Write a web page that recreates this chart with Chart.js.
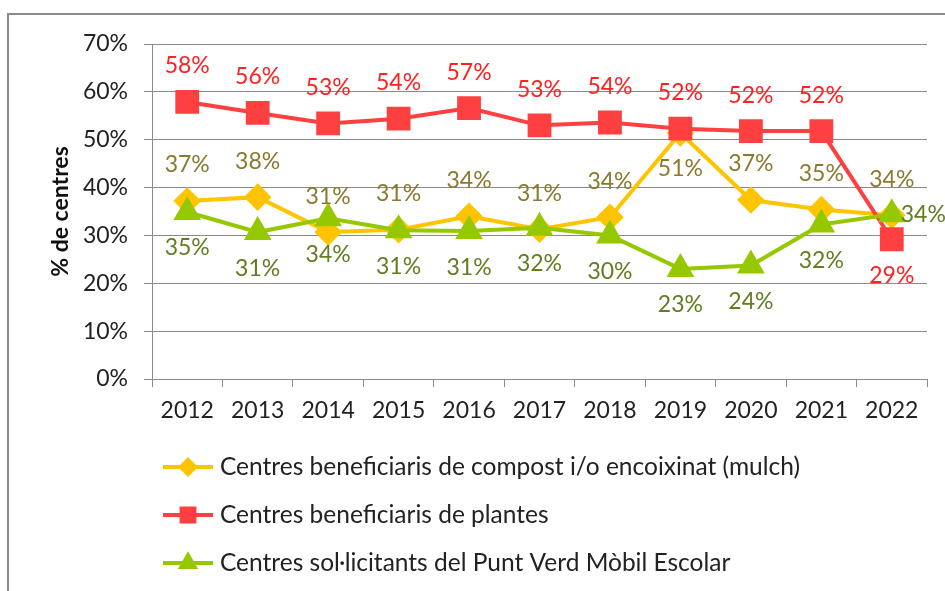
<!DOCTYPE html>
<html>
<head>
<meta charset="utf-8">
<script src="https://cdn.jsdelivr.net/npm/chart.js@4.4.0/dist/chart.umd.min.js"></script>
<style>
  html, body { margin: 0; padding: 0; background: #fff; overflow: hidden; }
  #frame { position: absolute; left: 7px; top: 13px; width: 2000px; height: 2000px; border: 2px solid #8a8a8a; }
  #myChart { position: absolute; left: 0; top: 0; }
</style>
</head>
<body>
<div id="frame"></div>
<canvas id="myChart" width="945" height="591"></canvas>
<script>
// data (percent)
const years = ['2012','2013','2014','2015','2016','2017','2018','2019','2020','2021','2022'];
const compost = [37.2, 38.0, 30.7, 31.2, 34.0, 31.3, 33.8, 51.4, 37.4, 35.4, 34.2];
const plantes = [57.9, 55.6, 53.4, 54.4, 56.6, 53.0, 53.6, 52.3, 51.8, 51.8, 29.2];
const puntVerd = [34.9, 30.7, 33.6, 31.1, 30.9, 31.6, 30.0, 23.0, 23.7, 32.3, 34.4];
const seriesNames = [
    'Centres beneficiaris de compost i/o encoixinat (mulch)',
    'Centres beneficiaris de plantes',
    'Centres sol\u00b7licitants del Punt Verd M\u00f2bil Escolar'
];

const FONT = 'Lato, "Open Sans", sans-serif';

// value labels next to each point (no datalabels plugin available)
const valueLabels = {
    id: 'valueLabels',
    afterDatasetsDraw(chart) {
        const ctx = chart.ctx;
        ctx.save();
        ctx.font = '23px ' + FONT;
        ctx.textBaseline = 'middle';
        chart.data.datasets.forEach((ds, i) => {
            const meta = chart.getDatasetMeta(i);
            meta.data.forEach((pt, j) => {
                const pos = ds.labelPos[j];
                let x = pt.x, y = pt.y;
                ctx.textAlign = 'center';
                if (pos === 't') y -= 36;
                else if (pos === 'b') y += 36;
                else { x += 9; ctx.textAlign = 'left'; }
                ctx.fillStyle = ds.labelColor;
                ctx.fillText(Math.round(ds.data[j]) + '%', x, y);
            });
        });
        ctx.restore();
    }
};

// legend drawn as line + marker, stacked under the chart
const lineLegend = {
    id: 'lineLegend',
    afterDraw(chart) {
        const ctx = chart.ctx;
        const base = chart.chartArea.bottom;
        ctx.save();
        ctx.font = '24.5px ' + FONT;
        ctx.textBaseline = 'middle';
        ctx.textAlign = 'left';
        chart.data.datasets.forEach((ds, i) => {
            const y = base + 88 + i * 48;
            ctx.strokeStyle = ds.borderColor;
            ctx.lineWidth = 4;
            ctx.beginPath();
            ctx.moveTo(163, y);
            ctx.lineTo(213, y);
            ctx.stroke();
            Chart.helpers.drawPoint(ctx, {
                pointStyle: ds.pointStyle,
                radius: ds.pointRadius * 0.65,
                borderWidth: 1,
                rotation: 0
            }, 188, y);
            ctx.fillStyle = ds.borderColor;
            ctx.strokeStyle = ds.borderColor;
            ctx.fill();
            ctx.fillStyle = '#222';
            ctx.fillText(ds.label, 220, y);
        });
        ctx.restore();
    }
};

let ctxChart = document.getElementById('myChart').getContext('2d');
let centresChart = new Chart(ctxChart, {
    type: 'line',
    data: {
        labels: years,
        datasets: [{
            label: seriesNames[0],
            data: compost,
            borderColor: '#ffc400',
            backgroundColor: '#ffc400',
            borderWidth: 4,
            pointStyle: 'rectRot',
            pointRadius: 11,
            pointHoverRadius: 11,
            labelColor: '#8a7a30',
            labelPos: ['t','t','t','t','t','t','t','b','t','t','t'],
            order: 3
        }, {
            label: seriesNames[1],
            data: plantes,
            borderColor: '#ff4040',
            backgroundColor: '#ff4040',
            borderWidth: 4,
            pointStyle: 'rect',
            pointRadius: 14,
            pointHoverRadius: 14,
            labelColor: '#ff2020',
            labelPos: ['t','t','t','t','t','t','t','t','t','t','b'],
            order: 2
        }, {
            label: seriesNames[2],
            data: puntVerd,
            borderColor: '#96c800',
            backgroundColor: '#96c800',
            borderWidth: 4,
            pointStyle: 'triangle',
            pointRadius: 12,
            pointHoverRadius: 12,
            labelColor: '#627d22',
            labelPos: ['b','b','b','b','b','b','b','b','b','b','r'],
            order: 1
        }]
    },
    options: {
        responsive: false,
        animation: false,
        devicePixelRatio: 1,
        layout: {
            padding: { left: 44, right: 11, top: 44, bottom: 150 }
        },
        plugins: {
            legend: { display: false },
            tooltip: { enabled: false }
        },
        scales: {
            x: {
                offset: true,
                grid: {
                    offset: true,
                    drawOnChartArea: false,
                    color: '#8a8a8a',
                    tickLength: 8
                },
                border: { color: '#8a8a8a' },
                ticks: {
                    color: '#222',
                    font: { family: FONT, size: 23 },
                    padding: 10,
                    maxRotation: 0
                },
                afterFit: s => { s.height = 62; }
            },
            y: {
                min: 0,
                max: 70,
                ticks: {
                    stepSize: 10,
                    color: '#222',
                    font: { family: FONT, size: 23 },
                    padding: 16,
                    callback: v => v + '%'
                },
                grid: {
                    color: '#8a8a8a',
                    tickLength: 8
                },
                border: { color: '#8a8a8a' },
                title: {
                    display: true,
                    text: '% de centres',
                    color: '#111',
                    font: { family: FONT, size: 23, weight: 'bold' },
                    padding: { top: 3, bottom: 0 }
                },
                afterFit: s => { s.width = 108; }
            }
        }
    },
    plugins: [valueLabels, lineLegend]
});
</script>
</body>
</html>
